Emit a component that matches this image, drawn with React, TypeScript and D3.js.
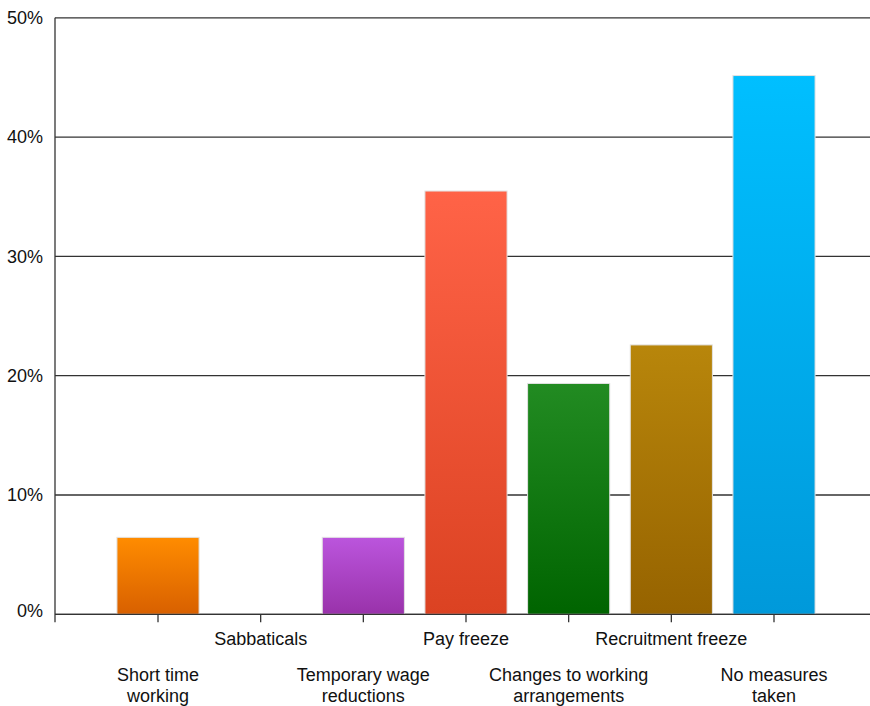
import React from "react";
import * as d3 from "d3";

const categories: string[][] = [
  ["Short time", "working"],
  ["Sabbaticals"],
  ["Temporary wage", "reductions"],
  ["Pay freeze"],
  ["Changes to working", "arrangements"],
  ["Recruitment freeze"],
  ["No measures", "taken"],
];
const values = [6.45, 0, 6.45, 35.48, 19.35, 22.58, 45.16];
const topColors = ["#FF8C00", "#BB55DD", "#FF6347", "#228B22", "#B8860B", "#00BFFF", "#00BFFF"];
const bottomColors = ["#D86000", "#9932AA", "#DB4222", "#006400", "#966300", "#0099DA", "#0099DA"];
const barColorIndex = [0, 0, 1, 2, 3, 4, 5];
const yTicks = [0, 10, 20, 30, 40, 50];

export default function App() {
  const W = 870, H = 706;
  const left = 55, top = 17.8, bottom = 614.3, right = 870;
  const keys = categories.map((c) => c.join(" "));
  const x = d3.scaleBand<string>().domain(keys).range([106.67, 825.33]).paddingInner(0.2).paddingOuter(0.1);
  const y = d3.scaleLinear().domain([0, 50]).range([bottom, top]);
  const font = "'Liberation Sans', Arial, Helvetica, sans-serif";

  return (
    <svg width={W} height={H} style={{ position: "absolute", left: 0, top: 0, background: "#fff" }} fontFamily={font}>
      <defs>
        {topColors.map((c, i) => (
          <linearGradient key={i} id={`g${i}`} x1="0" y1="0" x2="0" y2="1">
            <stop offset="0%" stopColor={c} />
            <stop offset="100%" stopColor={bottomColors[i]} />
          </linearGradient>
        ))}
      </defs>
      {yTicks.map((t) => (
        <g key={t}>
          <line x1={left} x2={right} y1={y(t)} y2={y(t)} stroke="#333" strokeWidth={1.3} />
          <text x={43} y={y(t) - (t === 0 ? 4 : 0)} dy="0.35em" textAnchor="end" fontSize={18} fill="#111">
            {t}%
          </text>
        </g>
      ))}
      <line x1={left} x2={left} y1={top} y2={bottom + 8} stroke="#333" strokeWidth={1.3} />
      {keys.map((k, i) => {
        const v = values[i];
        const ci = i === 0 ? 0 : i === 2 ? 1 : i === 3 ? 2 : i === 4 ? 3 : i === 5 ? 4 : 5;
        const bx = x(k)!;
        const bw = x.bandwidth();
        return (
          <g key={k}>
            {v > 0 && (
              <rect x={bx} y={y(v)} width={bw} height={y(0) - y(v)} fill={`url(#g${ci})`} stroke="#e2e2e2" strokeWidth={1} />
            )}
            <line x1={bx + bw / 2} x2={bx + bw / 2} y1={bottom} y2={bottom + 8} stroke="#333" strokeWidth={1.3} />
          </g>
        );
      })}
      <line x1={left} x2={right} y1={bottom} y2={bottom} stroke="#333" strokeWidth={1.3} />
      {keys.map((k, i) => {
        const cx = x(k)! + x.bandwidth() / 2;
        const lines = categories[i];
        const baseY = i % 2 === 1 ? 645 : 681;
        return (
          <text key={k} x={cx} y={baseY} textAnchor="middle" fontSize={18} fill="#111">
            {lines.map((l, j) => (
              <tspan key={j} x={cx} y={baseY + j * 20.5}>
                {l}
              </tspan>
            ))}
          </text>
        );
      })}
    </svg>
  );
}
